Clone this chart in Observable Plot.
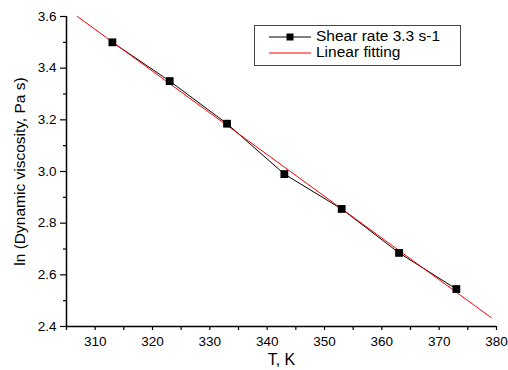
<!DOCTYPE html>
<html>
<head>
<meta charset="utf-8">
<script src="https://cdn.jsdelivr.net/npm/d3@7"></script>
<script src="https://cdn.jsdelivr.net/npm/@observablehq/plot@0.6"></script>
<style>
  html, body { margin: 0; padding: 0; background: #fff; }
  #wrap { position: relative; width: 508px; height: 370px; font-family: "Liberation Sans", Arial, sans-serif; }
  #legend { position: absolute; left: 254px; top: 25px; width: 205px; height: 39px; border: 1.3px solid #444; background: #fff; }
  #legend .row { position: absolute; left: 0; height: 16px; }
  #legend span { position: absolute; left: 61px; top: -2px; font-size: 15.5px; line-height: 18px; white-space: nowrap; color: #000; }
</style>
</head>
<body>
<div id="wrap"></div>
<script>
// Data
const temperature = [313, 323, 333, 343, 353, 363, 373];
const lnViscosity = [3.50, 3.35, 3.185, 2.99, 2.855, 2.685, 2.545];
const fitTemperature = [306.9, 379.1];
const fitLnViscosity = [3.60, 2.434];
const xMajorTicks = [310, 320, 330, 340, 350, 360, 370, 380];
const xMinorTicks = [305, 315, 325, 335, 345, 355, 365, 375];
const yMajorTicks = [2.4, 2.6, 2.8, 3.0, 3.2, 3.4, 3.6];
const yMinorTicks = [2.5, 2.7, 2.9, 3.1, 3.3, 3.5];
const seriesLabel = "Shear rate 3.3 s-1";
const fitLabel = "Linear fitting";
const xLabel = "T, K";
const yLabel = "ln (Dynamic viscosity, Pa s)";

const measured = temperature.map((t, i) => ({t, v: lnViscosity[i]}));
const fit = fitTemperature.map((t, i) => ({t, v: fitLnViscosity[i]}));

const chart = Plot.plot({
  width: 508,
  height: 370,
  marginLeft: 66,
  marginRight: 12,
  marginTop: 16,
  marginBottom: 44,
  style: {fontFamily: '"Liberation Sans", Arial, sans-serif', fontSize: "13.5px", color: "#000", background: "#fff"},
  x: {domain: [305, 380]},
  y: {domain: [2.4, 3.6]},
  marks: [
    Plot.axisX(xMinorTicks, {tickSize: 4, tickFormat: () => "", label: null, stroke: "#000", strokeWidth: 1.2}),
    Plot.axisX(xMajorTicks, {tickSize: 4, tickPadding: 6, tickFormat: d => String(d), label: null, stroke: "#000", strokeWidth: 1.2, fontSize: 13.5}),
    Plot.axisY(yMinorTicks, {tickSize: 3, tickFormat: () => "", label: null, stroke: "#000", strokeWidth: 1.2}),
    Plot.axisY(yMajorTicks, {tickSize: 6, tickPadding: 4, tickFormat: d => d.toFixed(1), label: null, stroke: "#000", strokeWidth: 1.2, fontSize: 13.5}),
    Plot.ruleY([2.4], {stroke: "#000", strokeWidth: 1.5}),
    Plot.ruleX([305], {stroke: "#000", strokeWidth: 1.5}),
    Plot.line(measured, {x: "t", y: "v", stroke: "#000", strokeWidth: 1}),
    Plot.line(fit, {x: "t", y: "v", stroke: "#ff0000", strokeWidth: 1}),
    Plot.dot(measured, {x: "t", y: "v", symbol: "square", r: 4.4, fill: "#000", stroke: "none"}),
    Plot.text([xLabel], {frameAnchor: "bottom", dy: 38, text: d => d, fontSize: 16, fill: "#000"}),
    Plot.text([yLabel], {frameAnchor: "left", textAnchor: "middle", dx: -46, rotate: -90, text: d => d, fontSize: 15.5, fill: "#000"})
  ]
});

const wrap = document.getElementById("wrap");
wrap.appendChild(chart);

// Legend
const legend = document.createElement("div");
legend.id = "legend";
function row(top, label, color, marker) {
  const r = document.createElement("div");
  r.className = "row";
  r.style.top = top + "px";
  r.style.width = "200px";
  const svg = d3.create("svg").attr("width", 60).attr("height", 16).style("position", "absolute").style("left", 0).style("top", 0);
  svg.append("line").attr("x1", 14).attr("x2", 56).attr("y1", 8).attr("y2", 8).attr("stroke", color).attr("stroke-width", 1);
  if (marker) svg.append("rect").attr("x", 31.5).attr("y", 4.5).attr("width", 7).attr("height", 7).attr("fill", "#000");
  r.appendChild(svg.node());
  const s = document.createElement("span");
  s.textContent = label;
  r.appendChild(s);
  legend.appendChild(r);
}
row(3, seriesLabel, "#000", true);
row(19, fitLabel, "#ff0000", false);
wrap.appendChild(legend);
</script>
</body>
</html>
